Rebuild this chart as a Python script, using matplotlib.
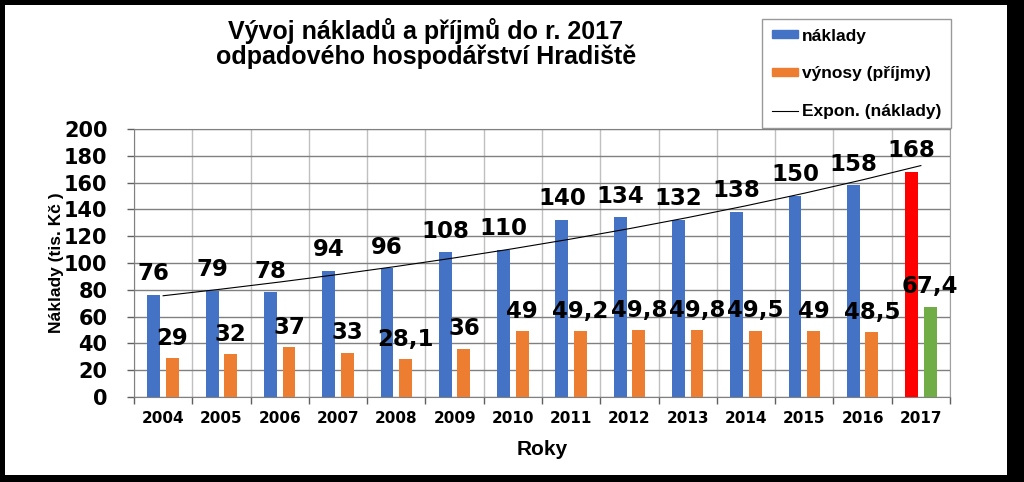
import matplotlib.pyplot as plt
import numpy as np
from matplotlib.patches import Rectangle
from matplotlib.lines import Line2D
from matplotlib.patches import Patch

years = ["2004", "2005", "2006", "2007", "2008", "2009", "2010",
         "2011", "2012", "2013", "2014", "2015", "2016", "2017"]
naklady = [76, 79, 78, 94, 96, 108, 110, 132, 134, 132, 138, 150, 158, 168]
naklady_labels = ["76", "79", "78", "94", "96", "108", "110",
                  "140", "134", "132", "138", "150", "158", "168"]
vynosy = [29, 32, 37, 33, 28.1, 36, 49, 49.2, 49.8, 49.8, 49.5, 49, 48.5, 67.4]
vynosy_labels = ["29", "32", "37", "33", "28,1", "36", "49",
                 "49,2", "49,8", "49,8", "49,5", "49", "48,5", "67,4"]

BLUE, ORANGE, RED, GREEN = "#4472C4", "#ED7D31", "#FF0000", "#70AD47"
NUMFONT = "DejaVu Sans"
TXTFONT = "Liberation Sans"

fig = plt.figure(figsize=(10.24, 4.82), dpi=100, facecolor="black")
# white card inside the black frame
card = Rectangle((5 / 1024, 1 - 475 / 482), 1002 / 1024, 470 / 482,
                 transform=fig.transFigure, facecolor="white",
                 edgecolor="none", zorder=-5)
fig.add_artist(card)

ax = fig.add_axes([134 / 1024, 1 - 397 / 482, 816 / 1024, 268 / 482])
ax.set_facecolor("white")

x = np.arange(len(years))
bw = 0.22
off = 0.16
blue_cols = [BLUE] * (len(years) - 1) + [RED]
orng_cols = [ORANGE] * (len(years) - 1) + [GREEN]
ax.bar(x - off, naklady, bw, color=blue_cols, zorder=3)
ax.bar(x + off, vynosy, bw, color=orng_cols, zorder=3)

# exponential trendline of naklady
coef = np.polyfit(x, np.log(naklady), 1)
trend = np.exp(np.polyval(coef, x))
ax.plot(x, trend, color="black", lw=0.8, zorder=4)

for xi, v, lab in zip(x, naklady, naklady_labels):
    ax.annotate(lab, (xi - off, v), xytext=(0, 7), textcoords="offset points",
                ha="center", va="bottom", fontsize=16.5, fontweight="bold",
                family=NUMFONT, zorder=5)
for xi, v, lab in zip(x, vynosy, vynosy_labels):
    ax.annotate(lab, (xi + off, v), xytext=(0, 6), textcoords="offset points",
                ha="center", va="bottom", fontsize=16.5, fontweight="bold",
                family=NUMFONT, zorder=5)

ax.set_xlim(-0.5, len(years) - 0.5)
ax.set_ylim(0, 200)
ax.set_yticks(range(0, 201, 20))
ax.set_yticklabels([str(t) for t in range(0, 201, 20)], fontsize=15,
                   fontweight="bold", family=NUMFONT)
ax.tick_params(axis="y", length=5, width=1, color="#606060", pad=14)
ax.set_xticks(x)
ax.set_xticklabels(years, fontsize=11, fontweight="bold", family=NUMFONT)
ax.set_xticks(np.arange(-0.5, len(years)), minor=True)
ax.tick_params(axis="x", which="major", length=0, pad=10)
ax.tick_params(axis="x", which="minor", length=5, width=1, color="#606060")

ax.grid(axis="y", color="#808080", lw=1, zorder=1)
ax.grid(axis="x", which="minor", color="#c0c0c0", lw=1, zorder=1)
ax.grid(axis="x", which="major", visible=False)
for s in ["left", "bottom", "top"]:
    ax.spines[s].set_color("#808080")
ax.spines["right"].set_color("#a0a0a0")

ax.set_xlabel("Roky", fontsize=15, fontweight="bold", family=TXTFONT, labelpad=10)
ax.set_ylabel("Náklady (tis. Kč )", fontsize=12.5, fontweight="bold",
              family=TXTFONT, labelpad=0)

fig.text(426 / 1024, 1 - 31 / 482, "Vývoj nákladů a příjmů do r. 2017",
         ha="center", va="center", fontsize=18, fontweight="bold", family=TXTFONT)
fig.text(426 / 1024, 1 - 57 / 482, "odpadového hospodářství Hradiště",
         ha="center", va="center", fontsize=18, fontweight="bold", family=TXTFONT)

handles = [Patch(color=BLUE), Patch(color=ORANGE), Line2D([], [], color="black", lw=0.8)]
leg = fig.legend(handles, ["náklady", "výnosy (příjmy)", "Expon. (náklady)"],
                 loc="upper left", bbox_to_anchor=(762 / 1024, 1 - 19 / 482),
                 frameon=True, fancybox=False, edgecolor="#808080",
                 prop={"family": TXTFONT, "weight": "bold", "size": 12.5},
                 labelspacing=1.3, handlelength=1.5, handleheight=0.3,
                 handletextpad=0.25, borderpad=0.55, borderaxespad=0)
leg.get_frame().set_linewidth(1)

fig.savefig("out.png", dpi=100, facecolor="black")
